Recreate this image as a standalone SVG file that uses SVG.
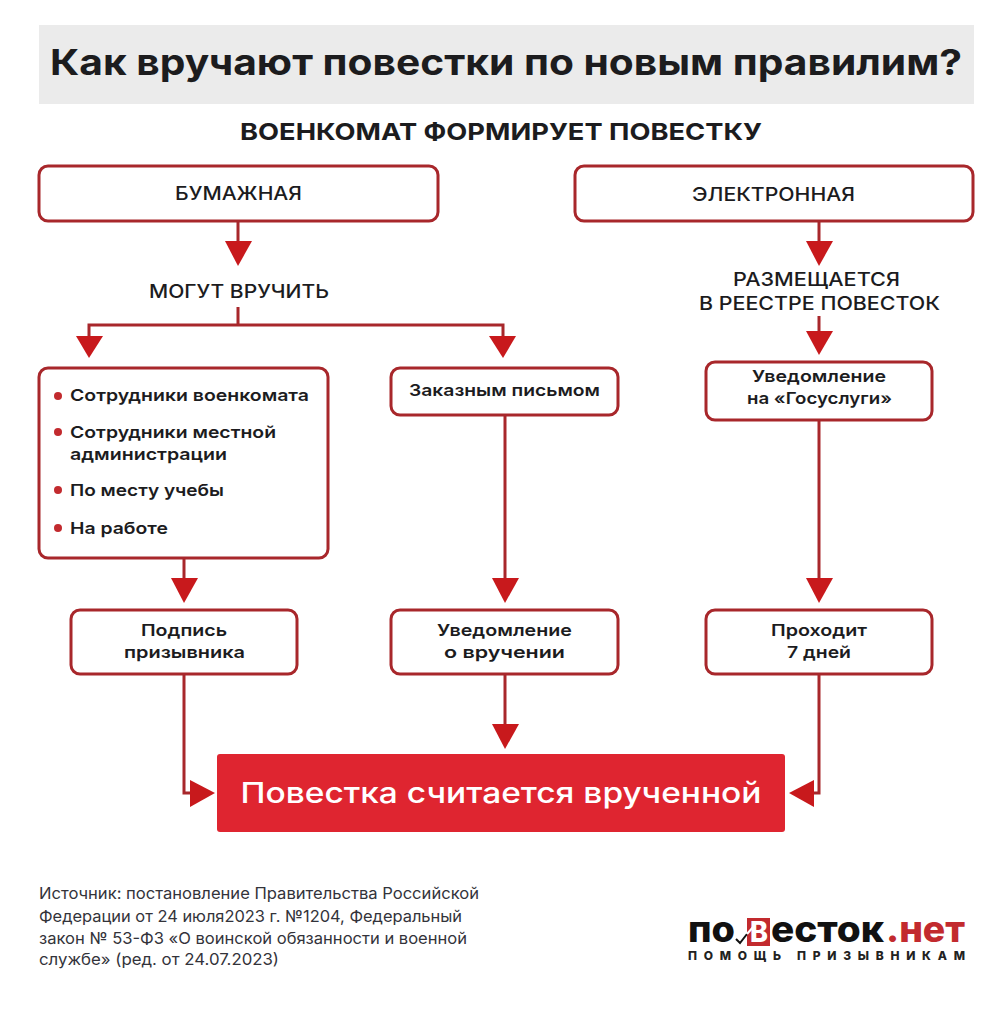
<svg xmlns="http://www.w3.org/2000/svg" width="1001" height="1024" viewBox="0 0 1001 1024">
<style>
text{font-family:"Inter","Liberation Sans",sans-serif;fill:#1c1c1e}
.b{fill:#fff;stroke:#a8272b;stroke-width:3}
.l{fill:none;stroke:#a8272b;stroke-width:3}
.h{font-size:19px;font-weight:500;text-anchor:middle}
.t{font-size:16.5px;font-weight:600;text-anchor:middle}
.i{font-size:16.5px;font-weight:600}
.s{font-size:16px;font-weight:400;fill:#33333a}
.a{fill:#c8191c;stroke:none}
.d{fill:#c22a2e}
</style>
<rect width="1001" height="1024" fill="#fff"/>
<g id="title"><rect x="39" y="25" width="935" height="79" fill="#ebebeb"/>
<text x="506" y="75" text-anchor="middle" font-size="36" font-weight="700" textLength="912" lengthAdjust="spacingAndGlyphs">Как вручают повестки по новым правилим?</text></g>
<g id="header"><text x="501" y="140" text-anchor="middle" font-size="23.5" font-weight="700" textLength="522" lengthAdjust="spacingAndGlyphs">ВОЕНКОМАТ ФОРМИРУЕТ ПОВЕСТКУ</text></g>
<g id="connectors">
<path class="l" d="M238 222V241"/><path class="a" d="M225 241H252L238 266Z"/>
<path class="l" d="M238 307V325M89 336V325H503V336"/><path class="a" d="M76 336H103L89 358Z"/><path class="a" d="M489 336H516L503 358Z"/>
<path class="l" d="M819 222V241"/><path class="a" d="M806 241H833L819 266Z"/>
<path class="l" d="M819 316V332"/><path class="a" d="M806 331H833L819 355Z"/>
<path class="l" d="M184 559V578"/><path class="a" d="M171 578H198L184 603Z"/>
<path class="l" d="M505 416V578"/><path class="a" d="M492 578H519L505 603Z"/>
<path class="l" d="M819 421V578"/><path class="a" d="M806 578H833L819 603Z"/>
<path class="l" d="M184 675V793H192"/><path class="a" d="M190 780V807L215 793Z"/>
<path class="l" d="M505 675V724"/><path class="a" d="M492 724H519L505 749Z"/>
<path class="l" d="M819 675V793H810"/><path class="a" d="M814 780V807L789 793Z"/>
</g>
<g id="n-paper"><rect class="b" x="39" y="166" width="399" height="55" rx="9"/><text class="h" x="238.500" y="200" textLength="127" lengthAdjust="spacingAndGlyphs">БУМАЖНАЯ</text></g>
<g id="n-electronic"><rect class="b" x="575" y="166" width="398" height="55" rx="9"/><text class="h" x="773.500" y="201" textLength="163" lengthAdjust="spacingAndGlyphs">ЭЛЕКТРОННАЯ</text></g>
<g id="n-may"><text class="h" x="239" y="298" textLength="180" lengthAdjust="spacingAndGlyphs">МОГУТ ВРУЧИТЬ</text></g>
<g id="n-registry"><text class="h" x="816.500" y="286" textLength="167" lengthAdjust="spacingAndGlyphs">РАЗМЕЩАЕТСЯ</text><text class="h" x="819.500" y="310" textLength="241" lengthAdjust="spacingAndGlyphs">В РЕЕСТРЕ ПОВЕСТОК</text></g>
<g id="n-list"><rect class="b" x="39" y="368" width="289" height="190" rx="9"/>
<circle class="d" cx="58" cy="396" r="4"/><text class="i" x="70" y="401" textLength="239" lengthAdjust="spacingAndGlyphs">Сотрудники военкомата</text>
<circle class="d" cx="58" cy="432" r="4"/><text class="i" x="70" y="438" textLength="206" lengthAdjust="spacingAndGlyphs">Сотрудники местной</text><text class="i" x="70" y="460" textLength="157" lengthAdjust="spacingAndGlyphs">администрации</text>
<circle class="d" cx="58" cy="490" r="4"/><text class="i" x="70" y="496" textLength="154" lengthAdjust="spacingAndGlyphs">По месту учебы</text>
<circle class="d" cx="58" cy="528" r="4"/><text class="i" x="70" y="534" textLength="98" lengthAdjust="spacingAndGlyphs">На работе</text></g>
<g id="n-mail"><rect class="b" x="391" y="368" width="227" height="47" rx="9"/><text class="t" x="504.500" y="396" textLength="191" lengthAdjust="spacingAndGlyphs">Заказным письмом</text></g>
<g id="n-gos"><rect class="b" x="706" y="362" width="226" height="58" rx="9"/><text class="t" x="819" y="382" textLength="134" lengthAdjust="spacingAndGlyphs">Уведомление</text><text class="t" x="819.500" y="404" textLength="145" lengthAdjust="spacingAndGlyphs">на «Госуслуги»</text></g>
<g id="n-sign"><rect class="b" x="71" y="610" width="226" height="64" rx="9"/><text class="t" x="184" y="636" textLength="86" lengthAdjust="spacingAndGlyphs">Подпись</text><text class="t" x="184.500" y="658" textLength="121" lengthAdjust="spacingAndGlyphs">призывника</text></g>
<g id="n-notice"><rect class="b" x="391" y="610" width="227" height="64" rx="9"/><text class="t" x="504.500" y="636" textLength="135" lengthAdjust="spacingAndGlyphs">Уведомление</text><text class="t" x="504.500" y="658" textLength="121" lengthAdjust="spacingAndGlyphs">о вручении</text></g>
<g id="n-days"><rect class="b" x="706" y="610" width="226" height="64" rx="9"/><text class="t" x="819" y="636" textLength="96" lengthAdjust="spacingAndGlyphs">Проходит</text><text class="t" x="819" y="658" textLength="64" lengthAdjust="spacingAndGlyphs">7 дней</text></g>
<g id="n-result"><rect x="217" y="754" width="568" height="78" rx="3" fill="#df2530"/><text x="501" y="803" text-anchor="middle" font-size="29" font-weight="500" style="fill:#fff" textLength="521" lengthAdjust="spacingAndGlyphs">Повестка считается врученной</text></g>
<g id="source">
<text class="s" x="39" y="899" textLength="440" lengthAdjust="spacingAndGlyphs">Источник: постановление Правительства Российской</text>
<text class="s" x="39" y="922" textLength="423" lengthAdjust="spacingAndGlyphs">Федерации от 24 июля2023 г. №1204, Федеральный</text>
<text class="s" x="39" y="944" textLength="428" lengthAdjust="spacingAndGlyphs">закон № 53-ФЗ «О воинской обязанности и военной</text>
<text class="s" x="39" y="965" textLength="240" lengthAdjust="spacingAndGlyphs">службе» (ред. от 24.07.2023)</text>
</g>
<g id="logo">
<rect x="747" y="918" width="23" height="28" fill="#c22a2e"/>
<text x="688" y="942" font-size="36" font-weight="800" textLength="47" lengthAdjust="spacingAndGlyphs" style="fill:#111">по</text>
<text x="750" y="942" font-size="28" font-weight="800" textLength="18" lengthAdjust="spacingAndGlyphs" style="fill:#fff">В</text>
<text x="771" y="942" font-size="36" font-weight="800" textLength="113" lengthAdjust="spacingAndGlyphs" style="fill:#111">есток</text>
<text x="886" y="942" font-size="36" font-weight="800" textLength="79" lengthAdjust="spacingAndGlyphs" style="fill:#c22a2e">.нет</text>
<path d="M736 939L740 943L747 934" fill="none" stroke="#111" stroke-width="2"/><path d="M747 934L754 926" fill="none" stroke="#fff" stroke-width="2"/>
<text x="688" y="960" font-size="12" font-weight="800" textLength="277" style="fill:#222">ПОМОЩЬ ПРИЗЫВНИКАМ</text>
</g>
</svg>
